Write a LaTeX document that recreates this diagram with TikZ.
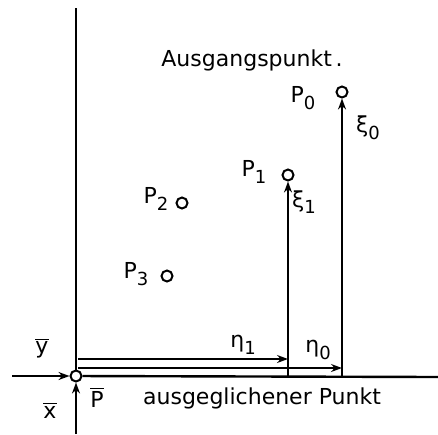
\documentclass[tikz,border=0pt]{standalone}
\usepackage{fontspec}
\setmainfont{DejaVu Sans}
\usetikzlibrary{arrows.meta}
\newcommand\lsub[1]{\raisebox{-0.55ex}{\small #1}}
\newcommand\ovl[1]{\ensuremath{\overline{\hbox{#1}}}}

\begin{document}
\begin{tikzpicture}[x=0.5pt,y=-0.5pt,
  pt/.style={circle,draw,line width=1pt,fill=white,inner sep=0pt,minimum size=5.5pt},
  lbl/.style={inner sep=1pt,font=\fontsize{11}{13}\selectfont},
  axis/.style={line width=1.2pt},
  >={Stealth[length=5.5pt,width=4pt]}]
\useasboundingbox (0,0) rectangle (438,434);
% points
\node[pt] (Pb) at (76,376) {};
\node[pt] (P0) at (342,92) {};
\node[pt] (P1) at (288,175) {};
\node[pt] (P2) at (182,203) {};
\node[pt] (P3) at (167,276) {};
\coordinate (top) at (76,8);
\coordinate (bot) at (76,434);
\coordinate (lft) at (12,376);
\coordinate (rgt) at (438,377);
\coordinate (F1) at (288,377);
\coordinate (F0) at (342,377);
\coordinate (A1) at (78,359);
\coordinate (B1) at (288,359);
\coordinate (A0) at (78,368);
\coordinate (B0) at (342,368);
% axes
\draw[axis] (top) -- (Pb);
\draw[axis] (Pb) -- (rgt);
\draw[axis,->] (bot) -- (Pb);
\draw[axis,->] (lft) -- (Pb);
% components
\draw[axis,->] (F1) -- (P1);
\draw[axis,->] (F0) -- (P0);
\draw[line width=0.7pt,->] (A1) -- (B1);
\draw[line width=0.7pt,->] (A0) -- (B0);
% labels
\node[lbl] (ausg) at (252,60) {Ausgangspunkt\,.};
\node[lbl] (lP0) at (303,98) {P\lsub{0}};
\node[lbl] (lx0) at (368,128) {ξ\lsub{0}};
\node[lbl] (lP1) at (254,172) {P\lsub{1}};
\node[lbl] (lx1) at (304,202) {ξ\lsub{1}};
\node[lbl] (lP2) at (156,199) {P\lsub{2}};
\node[lbl] (lP3) at (136,274) {P\lsub{3}};
\node[lbl] (le1) at (243,345) {η\lsub{1}};
\node[lbl] (le0) at (318,350) {η\lsub{0}};
\node[lbl] (ly) at (42,348) {\ovl{y}};
\node[lbl] (lx) at (50,410) {\ovl{x}};
\node[lbl] (lPb) at (97,397) {\ovl{P}};
\node[lbl] (ausgl) at (262,398) {ausgeglichener Punkt};
\end{tikzpicture}
\end{document}
